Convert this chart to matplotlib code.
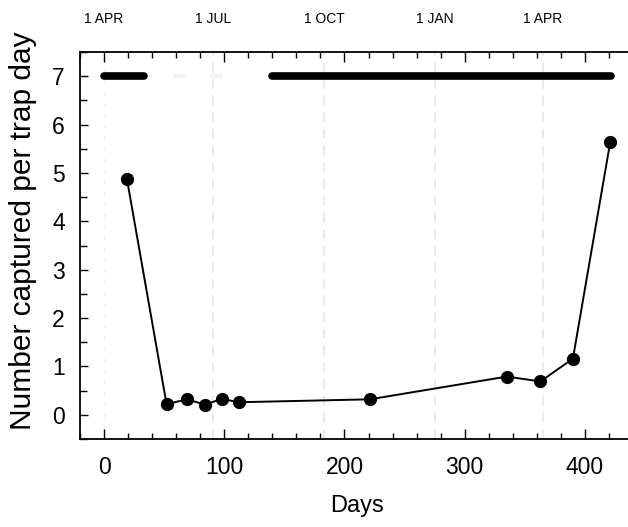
import numpy as np
import matplotlib
matplotlib.use('Agg')
import matplotlib.pyplot as plt
from matplotlib.ticker import MultipleLocator

plt.rcParams['font.family'] = ['Liberation Sans', 'DejaVu Sans']

# trap captures through the season
days = [19, 52, 69, 84, 98, 112, 221, 335, 363, 390, 421]
captures = [4.88, 0.22, 0.32, 0.21, 0.33, 0.26, 0.32, 0.79, 0.69, 1.16, 5.63]

# calendar reference along the top
month_days = [0, 91, 183, 275, 365]
month_names = ['1 APR', '1 JUL', '1 OCT', '1 JAN', '1 APR']

# periods marked by the bar at y = 7
bar_periods = [(0, 33), (140, 422)]
bar_level = 7

fig = plt.figure(figsize=(6.28, 5.27), dpi=100)
ax = fig.add_axes([80 / 628, 1 - 439 / 527, 553 / 628, 387 / 527])

# faint month guides
for d in month_days[1:]:
    ax.axvline(d, color='#e6e6e6', lw=1.2, ls=(0, (6, 4)), zorder=0)
ax.axvline(0, color='#ececec', lw=1, ls=(0, (2, 6)), zorder=0)

for start, end in bar_periods:
    ax.plot([start, end], [bar_level, bar_level], color='black', lw=5.5,
            solid_capstyle='round')
ax.plot([57, 115], [bar_level, bar_level], color='#f2f2f2', lw=3,
        ls=(0, (3, 6)))

ax.plot(days, captures, color='black', lw=1.4, marker='o', markersize=8.5,
        markerfacecolor='black', markeredgecolor='black')

ax.set_xlim(-20, 440)
ax.set_ylim(-0.5, 7.5)
ax.xaxis.set_major_locator(MultipleLocator(100))
ax.xaxis.set_minor_locator(MultipleLocator(20))
ax.yaxis.set_major_locator(MultipleLocator(1))
ax.yaxis.set_minor_locator(MultipleLocator(0.5))
ax.tick_params(which='both', direction='in', top=True, right=False,
               labelsize=16.5, width=1)
ax.tick_params(axis='x', which='major', length=7, pad=12)
ax.tick_params(axis='x', which='minor', length=4)
ax.tick_params(axis='y', which='major', length=6, pad=11)
ax.tick_params(axis='y', which='minor', length=5)
ax.spines['right'].set_visible(False)
for s in ['left', 'bottom', 'top']:
    ax.spines[s].set_linewidth(1.3)

ax.set_xlabel('Days', fontsize=17, labelpad=12)
ax.set_ylabel('Number captured per trap day', fontsize=21.5)
ax.yaxis.set_label_coords(-0.078, 0.537)

for d, name in zip(month_days, month_names):
    ax.text(d, 1 + 33 / 387, name, transform=ax.get_xaxis_transform(),
            ha='center', va='center', fontsize=10)

fig.savefig('out.png', dpi=100)
